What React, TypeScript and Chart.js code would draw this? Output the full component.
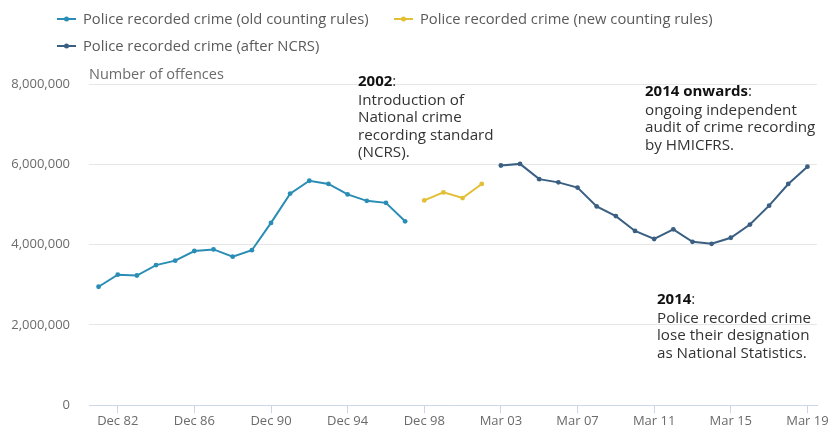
import React, { useEffect, useRef } from "react";
import { Chart, registerables } from "chart.js";

Chart.register(...registerables);

const categories = [
  "Dec 81", "Dec 82", "Dec 83", "Dec 84", "Dec 85", "Dec 86", "Dec 87", "Dec 88", "Dec 89",
  "Dec 90", "Dec 91", "Dec 92", "Dec 93", "Dec 94", "Dec 95", "Dec 96", "Dec 97",
  "Dec 98", "Mar 00", "Mar 01", "Mar 02",
  "Mar 03", "Mar 04", "Mar 05", "Mar 06", "Mar 07", "Mar 08", "Mar 09", "Mar 10",
  "Mar 11", "Mar 12", "Mar 13", "Mar 14", "Mar 15", "Mar 16", "Mar 17", "Mar 18", "Mar 19",
];

const oldRulesValues = [
  2950000, 3250000, 3230000, 3490000, 3600000, 3840000, 3880000, 3700000, 3860000,
  4540000, 5270000, 5590000, 5510000, 5250000, 5090000, 5040000, 4580000,
];
const newRulesValues = [5100000, 5300000, 5160000, 5510000];
const ncrsValues = [
  5970000, 6010000, 5630000, 5550000, 5420000, 4950000, 4710000, 4340000,
  4140000, 4380000, 4070000, 4020000, 4170000, 4500000, 4970000, 5510000, 5940000,
];

const seriesLabels = [
  "Police recorded crime (old counting rules)",
  "Police recorded crime (new counting rules)",
  "Police recorded crime (after NCRS)",
];
const seriesColors = ["#2a8db5", "#e3bf35", "#3a5f82"];

const yTicks = [0, 2000000, 4000000, 6000000, 8000000];
const xTickLabels = ["Dec 82", "Dec 86", "Dec 90", "Dec 94", "Dec 98", "Mar 03", "Mar 07", "Mar 11", "Mar 15", "Mar 19"];

const yAxisTitle = "Number of offences";

const annotations = [
  { x: 358, y: 82, bold: "2002", lines: ["Introduction of", "National crime", "recording standard", "(NCRS)."] },
  { x: 645, y: 92, bold: "2014 onwards", lines: ["ongoing independent", "audit of crime recording", "by HMICFRS."] },
  { x: 657, y: 300, bold: "2014", lines: ["Police recorded crime", "lose their designation", "as National Statistics."] },
];

const FONT = "'Open Sans', 'Noto Sans', sans-serif";

const oldData = categories.map((_, i) => (i < oldRulesValues.length ? oldRulesValues[i] : null));
const newData = categories.map((_, i) => {
  const j = i - oldRulesValues.length;
  return j >= 0 && j < newRulesValues.length ? newRulesValues[j] : null;
});
const ncrsData = categories.map((_, i) => {
  const j = i - oldRulesValues.length - newRulesValues.length;
  return j >= 0 && j < ncrsValues.length ? ncrsValues[j] : null;
});

const overlayPlugin = {
  id: "overlay",
  afterDraw(chart: any) {
    const ctx = chart.ctx as CanvasRenderingContext2D;
    ctx.save();
    const items = [
      { x: 57, y: 19 },
      { x: 394, y: 19 },
      { x: 57, y: 46 },
    ];
    ctx.font = `14.75px ${FONT}`;
    ctx.textBaseline = "middle";
    ctx.textAlign = "left";
    items.forEach((it, i) => {
      const color = chart.data.datasets[i].borderColor;
      ctx.strokeStyle = color;
      ctx.lineWidth = 2;
      ctx.beginPath();
      ctx.moveTo(it.x, it.y);
      ctx.lineTo(it.x + 19, it.y);
      ctx.stroke();
      ctx.fillStyle = color;
      ctx.beginPath();
      ctx.arc(it.x + 9.5, it.y, 2.5, 0, Math.PI * 2);
      ctx.fill();
      ctx.fillStyle = "#5a5a5a";
      ctx.fillText(chart.data.datasets[i].label, it.x + 26, it.y + 1);
    });

    ctx.fillStyle = "#6b6b6b";
    ctx.font = `14.5px ${FONT}`;
    ctx.fillText(yAxisTitle, chart.chartArea.left, 75);

    annotations.forEach((a) => {
      ctx.font = `bold 15px ${FONT}`;
      ctx.fillStyle = "#111111";
      ctx.fillText(a.bold, a.x, a.y);
      const w = ctx.measureText(a.bold).width;
      ctx.font = `15.2px ${FONT}`;
      ctx.fillStyle = "#333333";
      ctx.fillText(":", a.x + w, a.y);
      a.lines.forEach((line, k) => {
        ctx.fillText(line, a.x, a.y + 18.5 + k * 17.4);
      });
    });
    ctx.restore();
  },
};

export default function App() {
  const canvasRef = useRef<HTMLCanvasElement | null>(null);

  useEffect(() => {
    if (!canvasRef.current) return;
    const mk = (label: string, data: (number | null)[], color: string) => ({
      label,
      data,
      borderColor: color,
      backgroundColor: color,
      borderWidth: 2,
      pointRadius: 2.4,
      pointHoverRadius: 3,
      pointBorderWidth: 0,
      pointBackgroundColor: color,
      tension: 0,
      spanGaps: false,
    });
    const chart = new Chart(canvasRef.current, {
      type: "line",
      data: {
        labels: categories,
        datasets: [
          mk(seriesLabels[0], oldData, seriesColors[0]),
          mk(seriesLabels[1], newData, seriesColors[1]),
          mk(seriesLabels[2], ncrsData, seriesColors[2]),
        ],
      },
      options: {
        responsive: false,
        animation: false,
        layout: { autoPadding: false, padding: { top: 84, right: 13, bottom: 0, left: 0 } },
        plugins: {
          legend: { display: false },
          tooltip: { enabled: false },
        },
        scales: {
          x: {
            type: "category",
            offset: true,
            afterBuildTicks: (scale: any) => {
              scale.ticks = scale.ticks.filter((t: any) => xTickLabels.includes(categories[t.value]));
            },
            afterFit: (scale: any) => {
              scale.height = 24;
            },
            ticks: {
              autoSkip: false,
              maxRotation: 0,
              padding: 1,
              color: "#6b6b6b",
              font: { family: FONT, size: 13, lineHeight: 1.1 },
              callback: function (this: any, value: any) {
                return categories[value];
              },
            },
            grid: {
              drawOnChartArea: false,
              drawTicks: true,
              tickLength: 8,
              tickColor: "#cdd6e8",
              color: "#cdd6e8",
            },
            border: { display: true, color: "#cdd6e8", width: 1 },
          },
          y: {
            min: 0,
            max: 8000000,
            afterBuildTicks: (scale: any) => {
              scale.ticks = yTicks.map((v) => ({ value: v }));
            },
            afterFit: (scale: any) => {
              scale.width = 89;
            },
            ticks: {
              padding: 19,
              color: "#6b6b6b",
              font: { family: FONT, size: 13 },
              callback: (v: any) => Number(v).toLocaleString("en-GB"),
            },
            grid: {
              drawTicks: false,
              color: (c: any) => (c.tick && c.tick.value === 0 ? "rgba(0,0,0,0)" : "#e6e6e6"),
            },
            border: { display: false },
          },
        },
      },
      plugins: [overlayPlugin],
    });
    return () => chart.destroy();
  }, []);

  return (
    <div style={{ position: "absolute", left: 0, top: 0, width: 830, height: 432, background: "#ffffff" }}>
      <canvas ref={canvasRef} width={830} height={432} />
    </div>
  );
}
